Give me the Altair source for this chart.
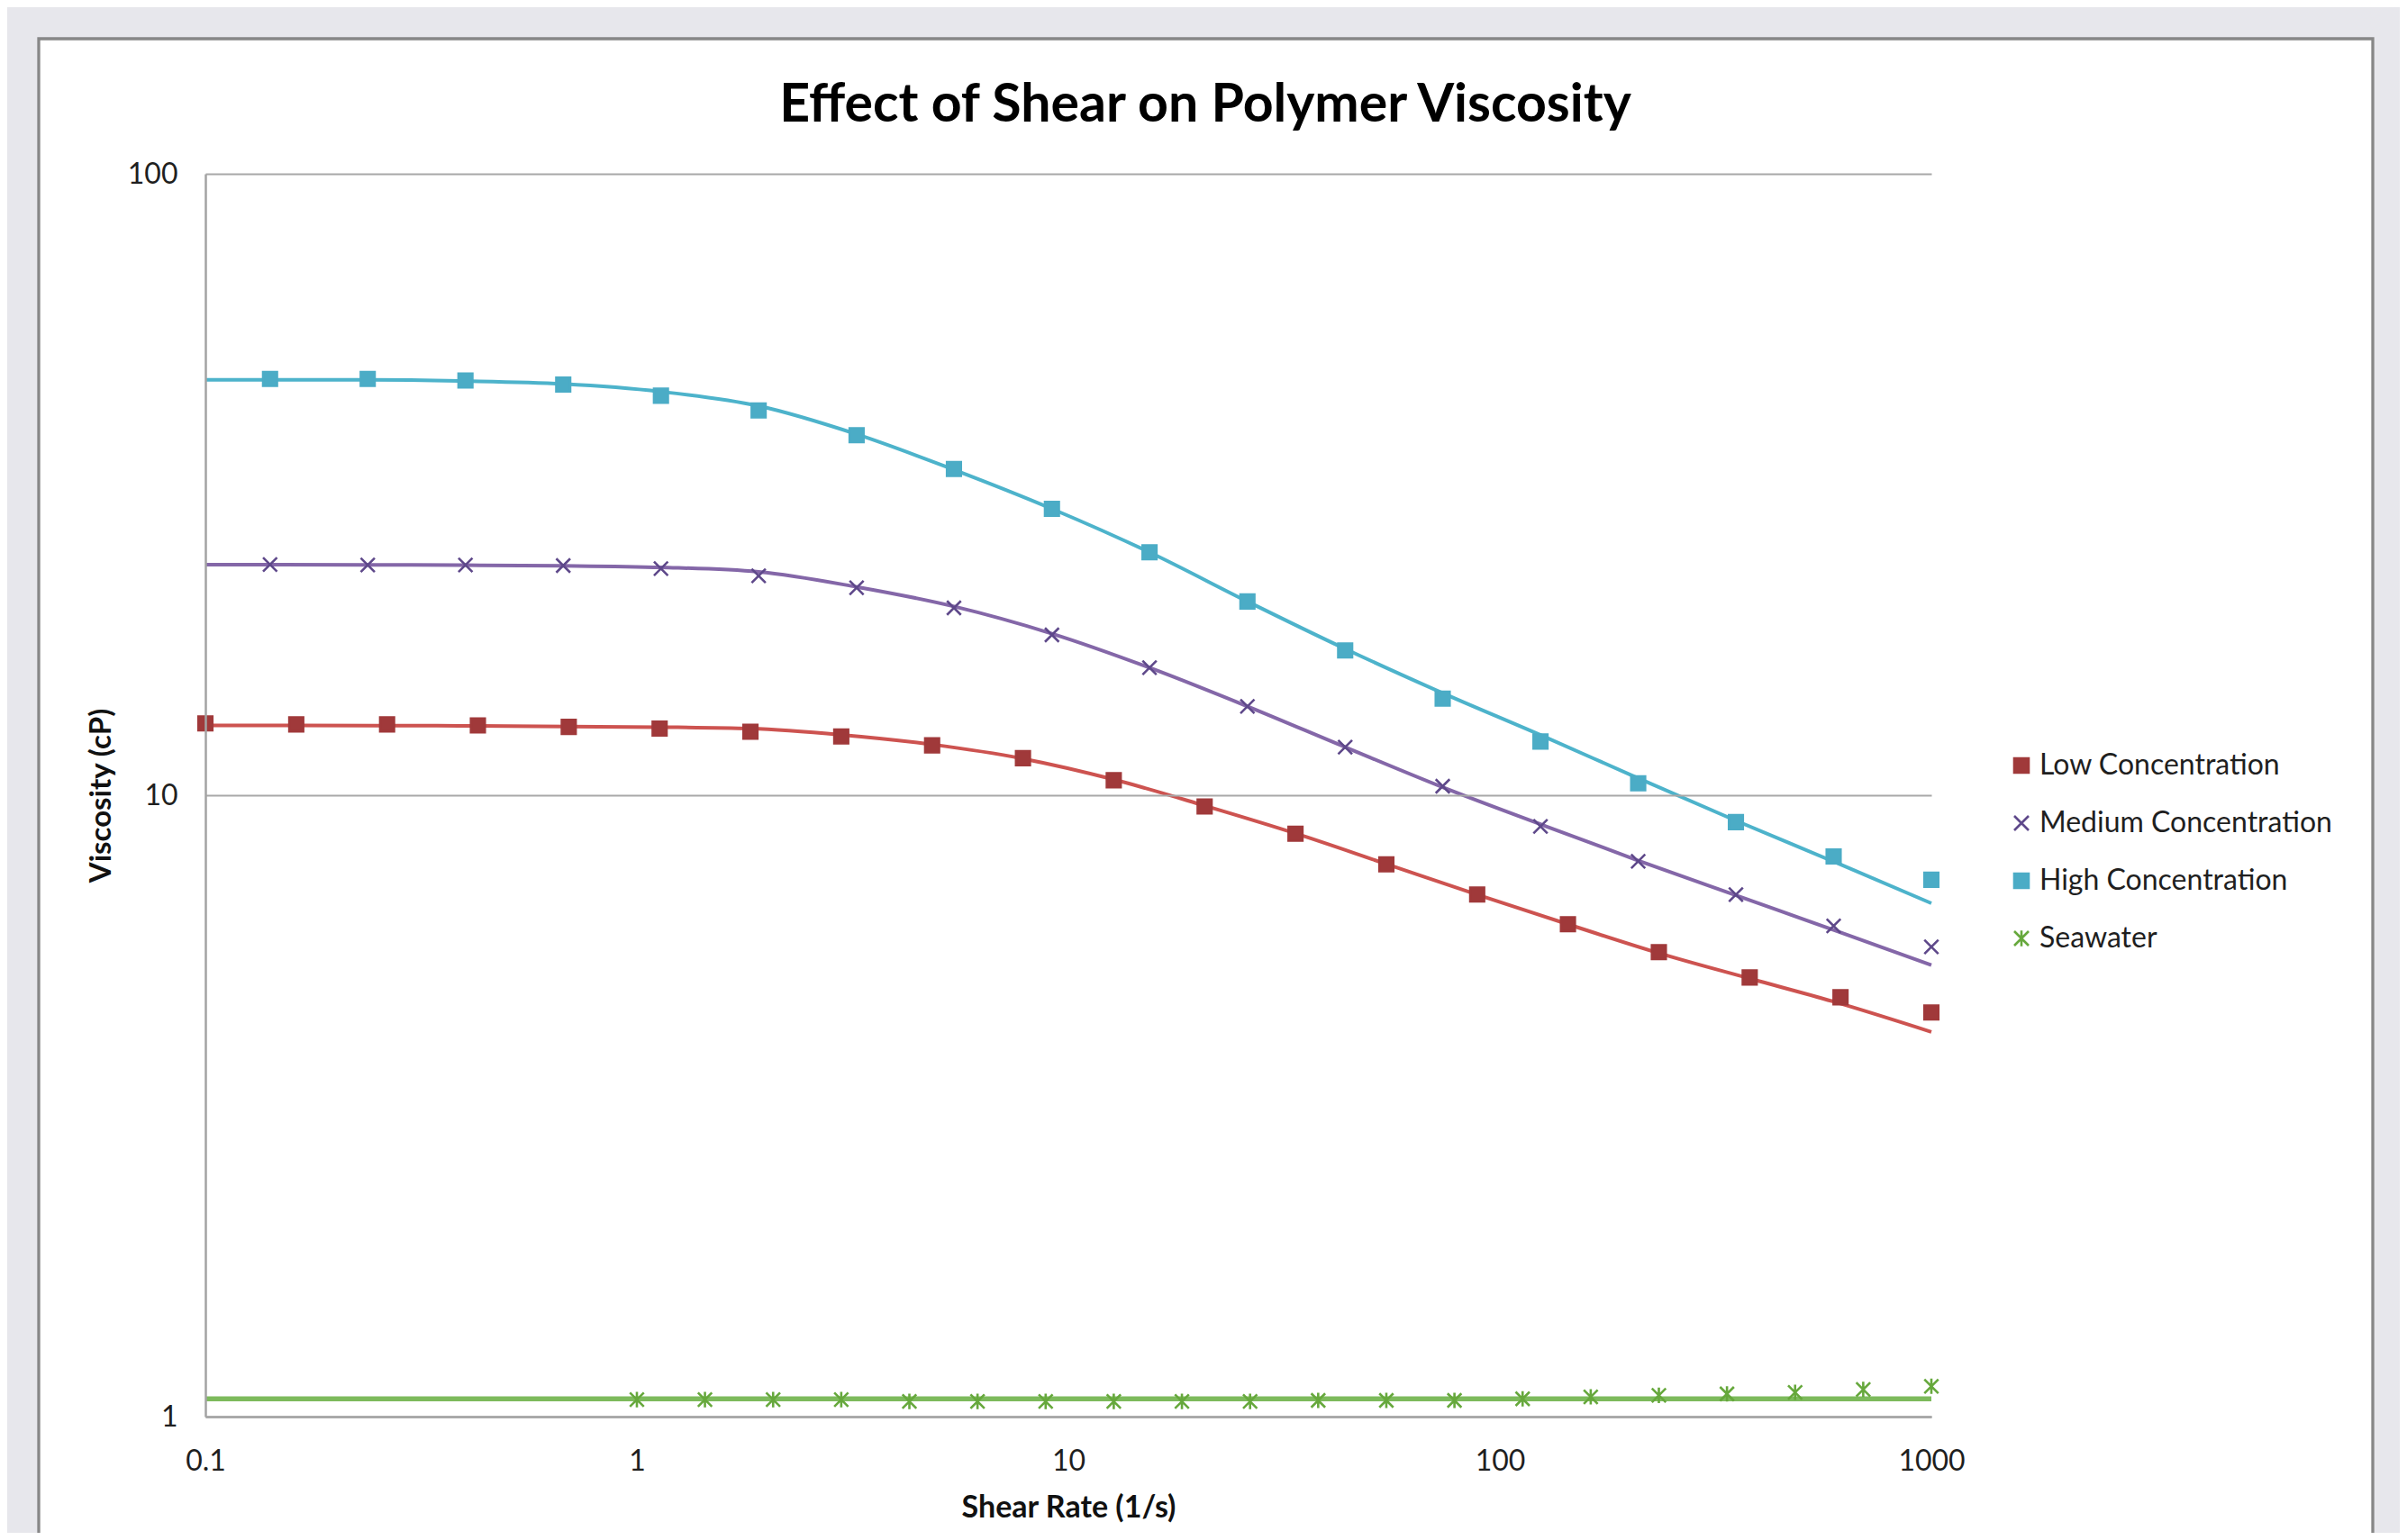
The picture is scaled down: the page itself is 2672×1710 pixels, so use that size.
import altair as alt
import pandas as pd

series_names = ["Low Concentration", "Medium Concentration", "High Concentration", "Seawater"]
marker_colors = ["#A0393A", "#5E488A", "#4BACC6", "#66A83C"]
line_colors = ["#CD5350", "#8467A8", "#4DB3CB", "#7DBA5C"]
line_widths = [4.0, 4.0, 4.0, 5.5]

# Low concentration (measured points and fitted curve)
low_x = [0.1, 0.1624, 0.2637, 0.4281, 0.6952, 1.129, 1.833, 2.976, 4.833, 7.848,
         12.74, 20.69, 33.6, 54.56, 88.6, 143.8, 233.6, 379.3, 615.8, 1000]
low_marker_y = [13.05, 13.0, 13.0, 12.95, 12.88, 12.8, 12.65, 12.43, 12.03, 11.47,
                10.57, 9.59, 8.67, 7.74, 6.92, 6.20, 5.59, 5.09, 4.73, 4.47]
low_line_y = [12.95, 12.95, 12.94, 12.93, 12.9, 12.87, 12.8, 12.51, 12.07, 11.45,
              10.6, 9.62, 8.68, 7.75, 6.92, 6.2, 5.57, 5.07, 4.62, 4.16]

# Medium / High concentration measured points
mh_x = [0.1412, 0.2378, 0.4006, 0.675, 1.137, 1.915, 3.23, 5.43, 9.16,
        15.42, 26.0, 43.8, 73.7, 124.2, 209.2, 352.4, 593.6, 1000]
medium_marker_y = [23.51, 23.47, 23.47, 23.42, 23.16, 22.55, 21.57, 20.02, 18.11,
                   16.04, 13.9, 11.95, 10.34, 8.91, 7.83, 6.92, 6.16, 5.70]
high_marker_y = [46.77, 46.77, 46.5, 45.8, 43.95, 41.6, 37.96, 33.5, 28.9,
                 24.6, 20.5, 17.1, 14.3, 12.2, 10.45, 9.05, 7.97, 7.31]

# Medium / High fitted curves
mh_line_x = [0.1, 0.1412, 0.2378, 0.4006, 0.675, 1.137, 1.915, 3.23, 5.43, 9.16,
             15.42, 26.0, 43.8, 73.7, 124.2, 209.2, 352.4, 593.6, 1000]
medium_line_y = [23.5, 23.5, 23.48, 23.45, 23.4, 23.26, 22.88, 21.64, 20.13, 18.2,
                 16.04, 13.9, 11.95, 10.3, 8.98, 7.85, 6.9, 6.07, 5.33]
high_line_y = [46.6, 46.6, 46.6, 46.4, 45.9, 44.6, 42.3, 38.1, 33.4, 28.9,
               24.6, 20.5, 17.2, 14.6, 12.5, 10.65, 9.1, 7.82, 6.70]

# Seawater
sea_x = [1, 1.438, 2.069, 2.976, 4.281, 6.158, 8.859, 12.74, 18.33, 26.37,
         37.93, 54.56, 78.48, 112.9, 162.4, 233.6, 336.0, 483.3, 695.2, 1000]
sea_marker_y = [1.065, 1.065, 1.065, 1.065, 1.058, 1.058, 1.058, 1.058, 1.058, 1.058,
                1.062, 1.062, 1.062, 1.068, 1.076, 1.082, 1.088, 1.094, 1.106, 1.119]
sea_line_x = [0.1, 1000]
sea_line_y = [1.068, 1.068]

x_ticks = [0.1, 1, 10, 100, 1000]
y_ticks = [1, 10, 100]

markers = pd.concat([
    pd.DataFrame({"x": low_x, "y": low_marker_y, "series": series_names[0]}),
    pd.DataFrame({"x": mh_x, "y": medium_marker_y, "series": series_names[1]}),
    pd.DataFrame({"x": mh_x, "y": high_marker_y, "series": series_names[2]}),
    pd.DataFrame({"x": sea_x, "y": sea_marker_y, "series": series_names[3]}),
], ignore_index=True)

lines = pd.concat([
    pd.DataFrame({"x": low_x, "y": low_line_y, "series": series_names[0]}),
    pd.DataFrame({"x": mh_line_x, "y": medium_line_y, "series": series_names[1]}),
    pd.DataFrame({"x": mh_line_x, "y": high_line_y, "series": series_names[2]}),
    pd.DataFrame({"x": sea_line_x, "y": sea_line_y, "series": series_names[3]}),
], ignore_index=True)

FONT = "Lato"
x_scale = alt.Scale(type="log", domain=[0.1, 1000], nice=False)
y_scale = alt.Scale(type="log", domain=[1, 100], nice=False)

x_axis = alt.Axis(values=x_ticks, format="~g", grid=False, ticks=False, zindex=1,
                  domainColor="#A3A3A3", domainWidth=2.5,
                  labelFont=FONT, labelFontSize=32, labelColor="#1f1f1f",
                  labelPadding=34, labelFlush=False, labelOverlap=False,
                  titleFont=FONT, titleFontSize=34, titleFontWeight="bold",
                  titleColor="#111111", titleX=958, titleY=111,
                  titleBaseline="alphabetic", titleAlign="center")
y_axis = alt.Axis(values=y_ticks, format="~g", grid=True, gridColor="#A8A8A8",
                  gridWidth=2, ticks=False, zindex=1, domainColor="#A3A3A3", domainWidth=2.5,
                  labelFont=FONT, labelFontSize=32, labelColor="#1f1f1f",
                  labelPadding=31, labelOverlap=False,
                  titleFont=FONT, titleFontSize=33, titleFontWeight="bold",
                  titleColor="#111111", titleAngle=270, titleX=-106, titleY=690,
                  titleBaseline="alphabetic", titleAlign="center")

x_path = "M-1,-1L1,1M-1,1L1,-1"
star_path = "M-1,-1L1,1M-1,1L1,-1M0,-1.1L0,1.1"
shapes = ["square", x_path, "square", star_path]

legend = alt.Legend(title=None, orient="none", legendX=2000, legendY=641, zindex=2,
                    labelFont=FONT, labelFontSize=32, labelColor="#1f1f1f",
                    labelLimit=700, symbolSize=256, symbolStrokeWidth=2.6,
                    rowPadding=32, labelOffset=4, padding=0)

panel = alt.Chart(pd.DataFrame({"panel": [0]})).mark_rect(
    fill="white", stroke="#878787", strokeWidth=3.3
).encode(
    x=alt.value(-185), x2=alt.value(2406), y=alt.value(-150), y2=alt.value(1560)
)

line_layers = []
for name, col, w in zip(series_names, line_colors, line_widths):
    line_layers.append(
        alt.Chart(lines).transform_filter(alt.datum.series == name)
        .mark_line(interpolate="monotone", color=col, strokeWidth=w)
        .encode(
            x=alt.X("x:Q", scale=x_scale, axis=x_axis, title="Shear Rate (1/s)"),
            y=alt.Y("y:Q", scale=y_scale, axis=y_axis, title="Viscosity (cP)"),
            order=alt.Order("x:Q"),
        )
    )

marker_layer = alt.Chart(markers).mark_point(opacity=1, fillOpacity=1, strokeWidth=2.6, size=240).encode(
    x=alt.X("x:Q", scale=x_scale),
    y=alt.Y("y:Q", scale=y_scale),
    fill=alt.Fill("series:N", scale=alt.Scale(domain=series_names, range=marker_colors), legend=legend),
    stroke=alt.Stroke("series:N", scale=alt.Scale(domain=series_names, range=marker_colors), legend=legend),
    shape=alt.Shape("series:N", scale=alt.Scale(domain=series_names, range=shapes), legend=legend),
)

chart = alt.layer(panel, *line_layers, marker_layer).properties(
    width=1916, height=1380,
    autosize=alt.AutoSizeParams(type="none"),
    padding={"left": 220, "top": 185, "right": 520, "bottom": 129},
    background="#E7E7EC",
    title=alt.TitleParams("Effect of Shear on Polymer Viscosity", font=FONT, fontSize=59,
                          fontWeight="bold", color="#000000", anchor="middle",
                          frame="group", offset=0, baseline="alphabetic", dx=152, dy=153),
).configure_view(strokeWidth=0)

chart.save("out.html", embed_options={"renderer": "svg", "actions": False})
